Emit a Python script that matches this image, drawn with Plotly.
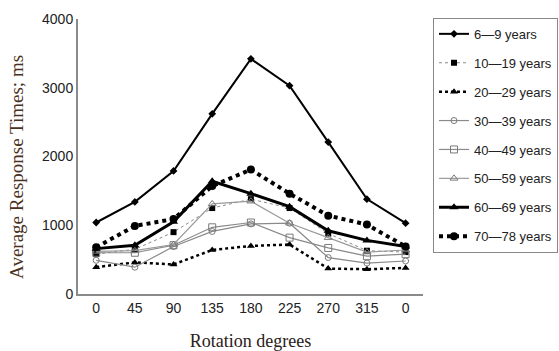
import plotly.graph_objects as go

tick_labels = ["0", "45", "90", "135", "180", "225", "270", "315", "0"]
positions = list(range(len(tick_labels)))

age_6_9 = [1040, 1340, 1790, 2620, 3420, 3030, 2210, 1380, 1030]
age_10_19 = [580, 650, 900, 1250, 1380, 1250, 880, 630, 610]
age_20_29 = [390, 460, 430, 640, 700, 720, 370, 360, 380]
age_30_39 = [490, 390, 690, 910, 1020, 1030, 530, 450, 480]
age_40_49 = [600, 600, 710, 970, 1040, 820, 670, 550, 580]
age_50_59 = [620, 630, 720, 1310, 1350, 1030, 820, 610, 640]
age_60_69 = [660, 710, 1050, 1640, 1460, 1270, 920, 780, 690]
age_70_78 = [680, 990, 1090, 1570, 1810, 1460, 1140, 1010, 690]

series = [
    ("6\u20149 years", age_6_9, dict(color="black", width=2, dash="solid"),
     dict(symbol="diamond", size=6, color="black")),
    ("10\u201419 years", age_10_19, dict(color="#8a8a8a", width=1, dash="dot"),
     dict(symbol="square", size=6, color="black")),
    ("20\u201429 years", age_20_29, dict(color="black", width=2.5, dash="dot"),
     dict(symbol="triangle-up", size=7, color="black")),
    ("30\u201439 years", age_30_39, dict(color="#8a8a8a", width=1.2, dash="solid"),
     dict(symbol="circle-open", size=6, color="#7a7a7a", line=dict(width=1))),
    ("40\u201449 years", age_40_49, dict(color="#8a8a8a", width=1.2, dash="solid"),
     dict(symbol="square-open", size=7, color="#7a7a7a", line=dict(width=1))),
    ("50\u201459 years", age_50_59, dict(color="#9a9a9a", width=1.2, dash="solid"),
     dict(symbol="triangle-up-open", size=7, color="#7a7a7a", line=dict(width=1))),
    ("60\u201469 years", age_60_69, dict(color="black", width=3, dash="solid"),
     dict(symbol="triangle-up", size=8, color="black")),
    ("70\u201478 years", age_70_78, dict(color="black", width=4, dash="dot"),
     dict(symbol="circle", size=8, color="black")),
]

fig = go.Figure()
for i, (name, vals, line, marker) in enumerate(series):
    fig.add_trace(go.Scatter(
        x=positions, y=vals, name=name, mode="lines+markers",
        line=line, marker=marker, legendgroup=str(i)))

fig.update_layout(
    width=559, height=351,
    margin=dict(l=78, r=136, t=19, b=57, autoexpand=False),
    paper_bgcolor="white", plot_bgcolor="white",
    showlegend=True,
    legend=dict(
        x=1.029, y=1.004, xanchor="left", yanchor="top",
        bordercolor="#888888", borderwidth=1,
        font=dict(family="Liberation Sans, Arial, sans-serif", size=13, color="#222"),
        tracegroupgap=9, itemwidth=30, maxheight=300,
    ),
    xaxis=dict(
        range=[-0.47, 8.45], tickmode="array", tickvals=positions, ticktext=tick_labels,
        showline=True, linecolor="#8a8a8a", linewidth=2, showgrid=False, zeroline=False,
        ticks="", tickfont=dict(family="Liberation Sans, Arial, sans-serif", size=14, color="#222"),
        title=dict(text="Rotation degrees", standoff=24,
                   font=dict(family="Liberation Serif, Times New Roman, serif", size=18, color="#2a2018")),
    ),
    yaxis=dict(
        range=[0, 4000], tickvals=[0, 1000, 2000, 3000, 4000],
        showline=True, linecolor="#8a8a8a", linewidth=2, showgrid=False, zeroline=False,
        ticks="", tickfont=dict(family="Liberation Sans, Arial, sans-serif", size=14, color="#222"),
    ),
    annotations=[dict(
        text="Average Response Times; ms", textangle=-90,
        xref="paper", yref="paper", x=-0.177, y=0.462,
        xanchor="center", yanchor="middle", showarrow=False,
        font=dict(family="Liberation Serif, Times New Roman, serif", size=19, color="#4a3020"),
    )],
)

fig.write_html("out.html", config={"displayModeBar": False},
               post_script="document.body.style.margin='0px';")
